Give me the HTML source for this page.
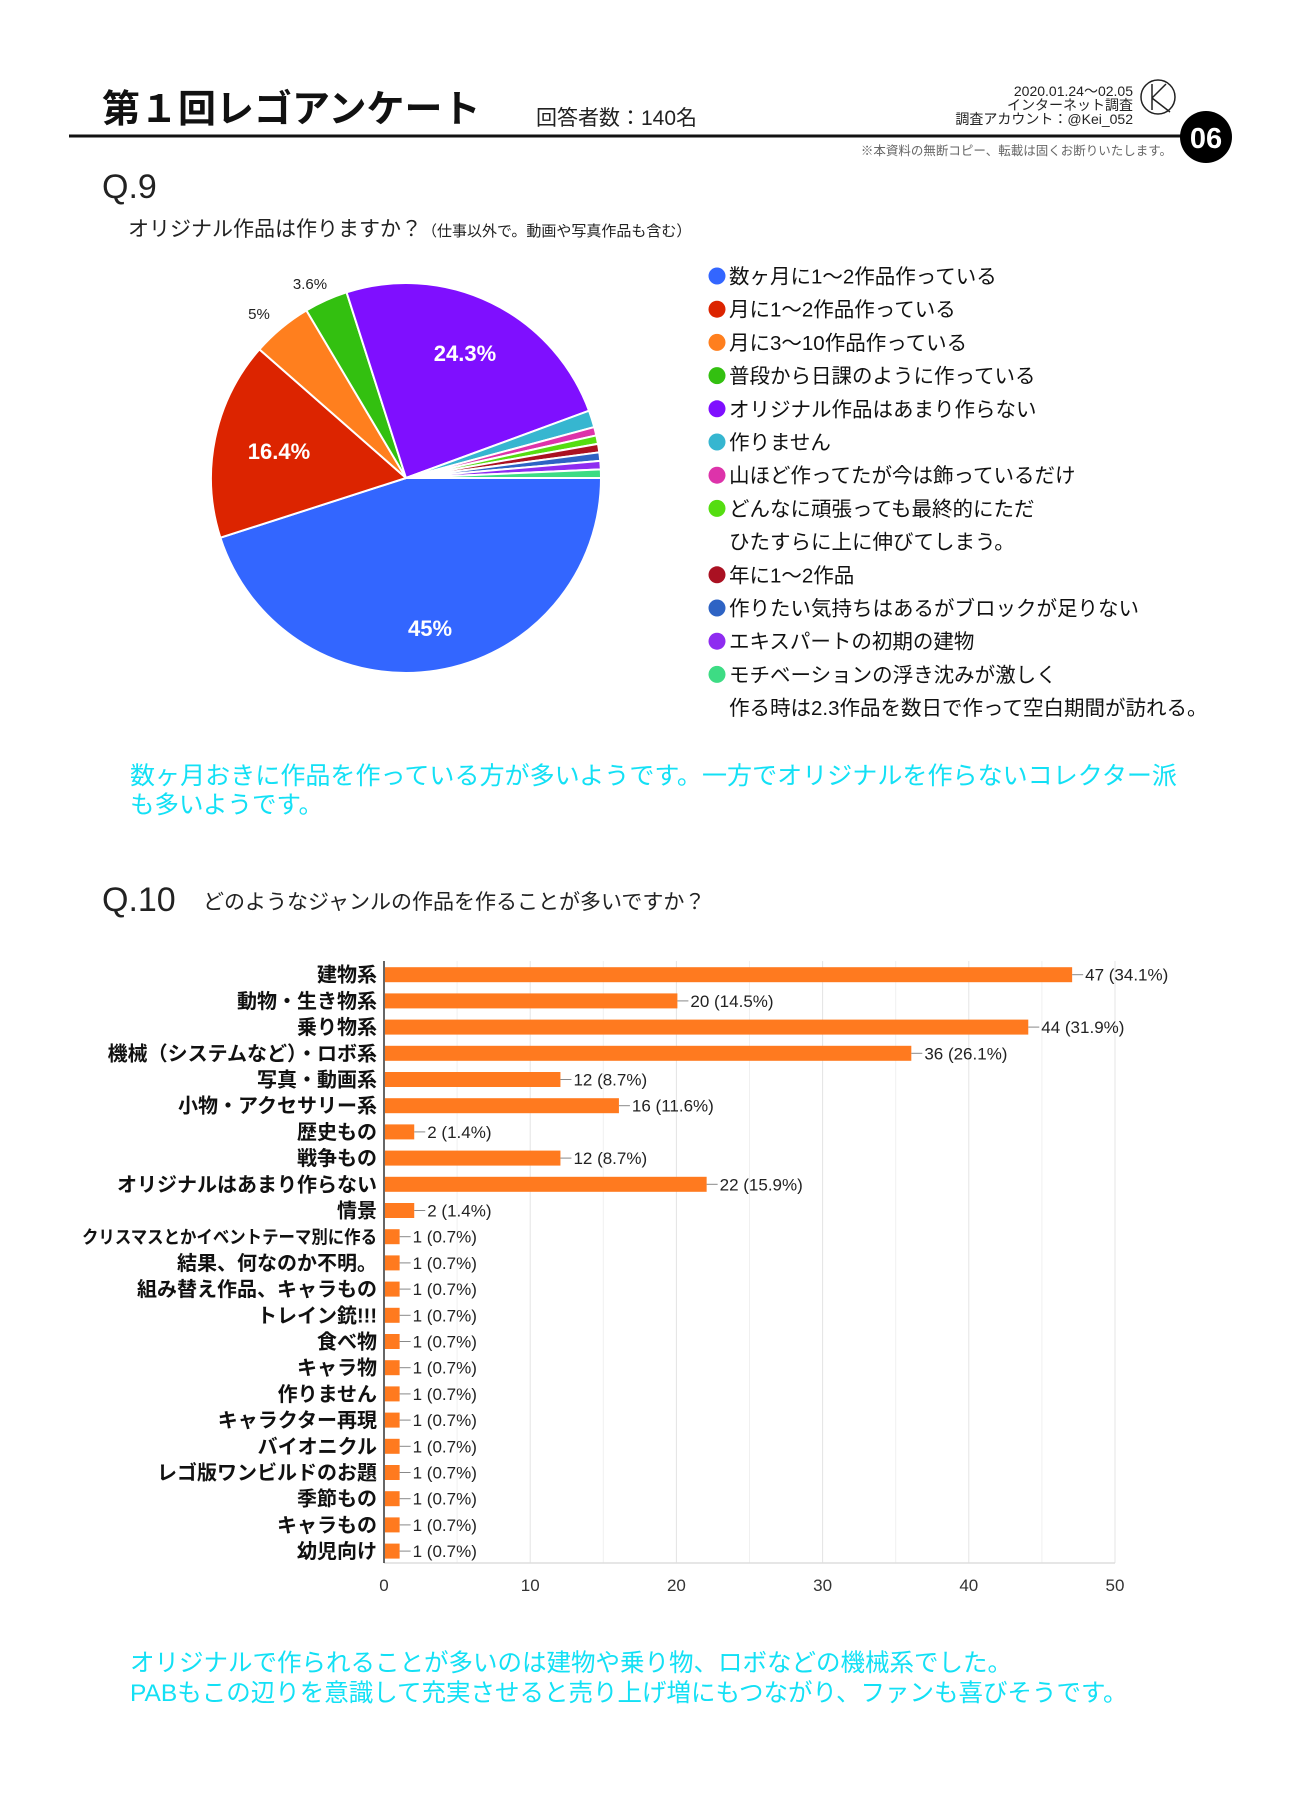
<!DOCTYPE html>
<html><head><meta charset="utf-8">
<style>
html,body{margin:0;padding:0;background:#fff;}
svg{display:block;font-family:"Liberation Sans","Noto Sans CJK JP",sans-serif;}
</style></head>
<body>
<svg id="s" width="1300" height="1820" viewBox="0 0 1300 1820" xmlns="http://www.w3.org/2000/svg">
<rect width="1300" height="1820" fill="#fff"/>
<text x="102" y="122" font-size="38" font-weight="bold" fill="#111">第１回レゴアンケート</text>
<text x="536" y="125" font-size="21" fill="#222">回答者数：140名</text>
<line x1="69" y1="136" x2="1190" y2="136" stroke="#111" stroke-width="3"/>
<circle cx="1206" cy="137" r="26" fill="#000"/>
<text x="1206" y="148" font-size="29" font-weight="bold" fill="#fff" text-anchor="middle">06</text>
<text x="1133" y="96" font-size="14" fill="#222" text-anchor="end">2020.01.24～02.05</text>
<text x="1133" y="110" font-size="14" fill="#222" text-anchor="end">インターネット調査</text>
<text x="1133" y="124" font-size="14" fill="#222" text-anchor="end">調査アカウント：@Kei_052</text>
<circle cx="1158" cy="97" r="17" fill="none" stroke="#222" stroke-width="1.5"/>
<path d="M1152 84 L1152 110 M1152 98 L1166 84 M1152 98 L1170 112" stroke="#222" stroke-width="1.5" fill="none"/>
<text x="1172" y="155" font-size="12.5" fill="#666" text-anchor="end">※本資料の無断コピー、転載は固くお断りいたします。</text>
<text x="102" y="198" font-size="34" fill="#222">Q.9</text>
<text x="128" y="236" font-size="21" fill="#222">オリジナル作品は作りますか？<tspan font-size="15">（仕事以外で。動画や写真作品も含む）</tspan></text>
<g id="pie"></g>
<text x="465" y="361" font-size="22" font-weight="bold" fill="#fff" text-anchor="middle">24.3%</text>
<text x="279" y="459" font-size="22" font-weight="bold" fill="#fff" text-anchor="middle">16.4%</text>
<text x="430" y="636" font-size="22" font-weight="bold" fill="#fff" text-anchor="middle">45%</text>
<text x="259" y="319" font-size="15" fill="#222" text-anchor="middle">5%</text>
<text x="310" y="289" font-size="15" fill="#222" text-anchor="middle">3.6%</text>
<g id="legend"></g>
<text x="130" y="784" font-size="24.5" fill="#13e0f5" textLength="1047" lengthAdjust="spacingAndGlyphs">数ヶ月おきに作品を作っている方が多いようです。一方でオリジナルを作らないコレクター派</text>
<text x="130" y="813" font-size="24.5" fill="#13e0f5">も多いようです。</text>
<text x="102" y="911" font-size="34" fill="#222">Q.10</text>
<text x="203" y="909" font-size="21" fill="#222">どのようなジャンルの作品を作ることが多いですか？</text>
<g id="bars"></g>
<text x="130" y="1671" font-size="24.5" fill="#13e0f5">オリジナルで作られることが多いのは建物や乗り物、ロボなどの機械系でした。</text>
<text x="130" y="1701" font-size="24.5" fill="#13e0f5">PABもこの辺りを意識して充実させると売り上げ増にもつながり、ファンも喜びそうです。</text>
</svg>
<script>
var NS="http://www.w3.org/2000/svg";
function el(p,t,a,txt){var e=document.createElementNS(NS,t);for(var k in a)e.setAttribute(k,a[k]);if(txt!=null)e.textContent=txt;p.appendChild(e);return e;}
var cx=406,cy=478,r=195;
var sl=[[45,"#3366ff"],[16.4,"#dc2400"],[5,"#ff7f1e"],[3.6,"#33c010"],[24.3,"#7f0fff"],[1.4,"#36b6d0"],[0.7,"#dd33aa"],[0.7,"#55dd11"],[0.7,"#aa1122"],[0.7,"#2e63c4"],[0.7,"#8e2cf0"],[0.7,"#3ddc84"]];
var tot=0;sl.forEach(function(s){tot+=s[0];});
var a=0,pie=document.getElementById("pie");
sl.forEach(function(s){var a2=a+s[0]/tot*2*Math.PI;
var x1=cx+r*Math.cos(a),y1=cy+r*Math.sin(a),x2=cx+r*Math.cos(a2),y2=cy+r*Math.sin(a2);
el(pie,"path",{d:"M"+cx+" "+cy+" L"+x1+" "+y1+" A"+r+" "+r+" 0 "+((a2-a)>Math.PI?1:0)+" 1 "+x2+" "+y2+" Z",fill:s[1],stroke:"#fff","stroke-width":2});a=a2;});
var lg=[["数ヶ月に1～2作品作っている","#3366ff"],["月に1～2作品作っている","#dc2400"],["月に3～10作品作っている","#ff7f1e"],["普段から日課のように作っている","#33c010"],["オリジナル作品はあまり作らない","#7f0fff"],["作りません","#36b6d0"],["山ほど作ってたが今は飾っているだけ","#dd33aa"],["どんなに頑張っても最終的にただ","#55dd11"],["ひたすらに上に伸びてしまう。",null],["年に1～2作品","#aa1122"],["作りたい気持ちはあるがブロックが足りない","#2e63c4"],["エキスパートの初期の建物","#8e2cf0"],["モチベーションの浮き沈みが激しく","#3ddc84"],["作る時は2.3作品を数日で作って空白期間が訪れる。",null]];
var L=document.getElementById("legend");
lg.forEach(function(l,i){var y=276+i*33.2;if(l[1])el(L,"circle",{cx:717,cy:y,r:8.5,fill:l[1]});
el(L,"text",{x:729,y:y+7.5,"font-size":20.5,fill:"#111"},l[0]);});
var bd=[["建物系",47,"34.1%"],["動物・生き物系",20,"14.5%"],["乗り物系",44,"31.9%"],["機械（システムなど）・ロボ系",36,"26.1%"],["写真・動画系",12,"8.7%"],["小物・アクセサリー系",16,"11.6%"],["歴史もの",2,"1.4%"],["戦争もの",12,"8.7%"],["オリジナルはあまり作らない",22,"15.9%"],["情景",2,"1.4%"],["クリスマスとかイベントテーマ別に作る",1,"0.7%"],["結果、何なのか不明。",1,"0.7%"],["組み替え作品、キャラもの",1,"0.7%"],["トレイン銃!!!",1,"0.7%"],["食べ物",1,"0.7%"],["キャラ物",1,"0.7%"],["作りません",1,"0.7%"],["キャラクター再現",1,"0.7%"],["バイオニクル",1,"0.7%"],["レゴ版ワンビルドのお題",1,"0.7%"],["季節もの",1,"0.7%"],["キャラもの",1,"0.7%"],["幼児向け",1,"0.7%"]];
var B=document.getElementById("bars"),x0=384,u=14.62,yT=961,yB=1563;
for(var g=1;g<=10;g++){var gx=x0+g*5*u;el(B,"line",{x1:gx,y1:yT,x2:gx,y2:yB,stroke:g%2==0?"#e4e4e4":"#f0f0f0","stroke-width":1});}
el(B,"line",{x1:x0,y1:yB,x2:x0+50*u,y2:yB,stroke:"#ddd","stroke-width":1.5});
el(B,"line",{x1:x0,y1:yT,x2:x0,y2:yB,stroke:"#333","stroke-width":1.5});
for(var t=0;t<=5;t++)el(B,"text",{x:x0+t*10*u,y:1591,"font-size":17,fill:"#333","text-anchor":"middle"},String(t*10));
bd.forEach(function(b,i){var y=974.7+i*26.2;var w=b[1]*u;
el(B,"rect",{x:x0+1,y:y-7.5,width:w,height:15,fill:"#ff7a1f"});
el(B,"line",{x1:x0+1+w,y1:y,x2:x0+w+12,y2:y,stroke:"#888","stroke-width":1});
el(B,"text",{x:x0+w+14,y:y+6,"font-size":17,fill:"#222"},b[1]+" ("+b[2]+")");
var at={x:377,y:y+7,"font-size":20,"font-weight":"bold",fill:"#111","text-anchor":"end"};
if(i==10){at.textLength=295;at.lengthAdjust="spacingAndGlyphs";at["font-size"]=18;}
el(B,"text",at,b[0]);});
</script>
</body></html>
